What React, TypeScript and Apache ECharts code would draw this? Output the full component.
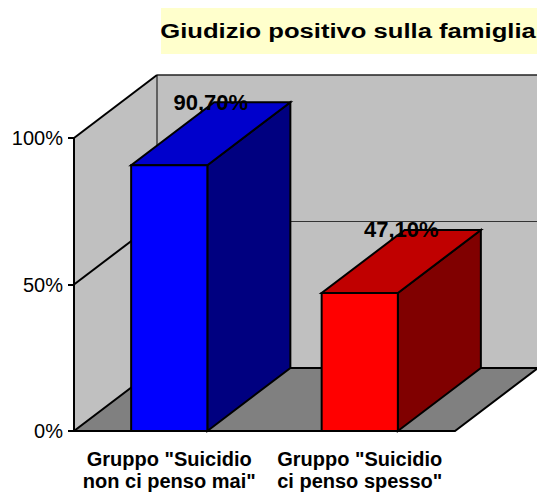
import React, { useEffect, useRef } from 'react';
import * as echarts from 'echarts';

const categories = ['Gruppo "Suicidio\nnon ci penso mai"', 'Gruppo "Suicidio\nci penso spesso"'];
const values = [90.7, 47.1];
const yTicks = [0, 50, 100];
const titleText = 'Giudizio positivo sulla famiglia';
const frontColors = ['#0000FF', '#FF0000'];
const topColors = ['#0000CC', '#C00000'];
const sideColors = ['#000080', '#800000'];

const DX = 83;
const DY = -63;
const FONT = '"Liberation Sans", Arial, Helvetica, sans-serif';

const fmt = (v: number) => v.toFixed(2).replace('.', ',') + '%';

export default function App() {
  const ref = useRef<HTMLDivElement>(null);
  useEffect(() => {
    document.body.style.margin = '0';
    const chart = echarts.init(ref.current!, null, { renderer: 'svg' });
    const wallsRender = (params: any, api: any) => {
      const cs = params.coordSys;
      const x0 = cs.x;
      const x1 = cs.x + cs.width;
      const yB = api.coord([0, yTicks[0]])[1];
      const yT = api.coord([0, yTicks[yTicks.length - 1]])[1];
      const children: any[] = [];
      children.push({
        type: 'polygon',
        shape: { points: [[x0 + DX, yT + DY], [x1 + DX + 2, yT + DY], [x1 + DX + 2, yB + DY], [x0 + DX, yB + DY]] },
        style: { fill: '#C0C0C0' },
      });
      children.push({
        type: 'polygon',
        shape: { points: [[x0, yB], [x0, yT], [x0 + DX, yT + DY], [x0 + DX, yB + DY]] },
        style: { fill: '#C0C0C0' },
      });
      children.push({
        type: 'line',
        shape: { x1: x0 + DX, y1: yT + DY, x2: x0 + DX, y2: yB + DY },
        style: { stroke: '#000', lineWidth: 1 },
      });
      yTicks.forEach((v) => {
        if (v === yTicks[0]) return;
        const y = api.coord([0, v])[1];
        const isTop = v === yTicks[yTicks.length - 1];
        children.push({
          type: 'line',
          shape: { x1: x0 + DX, y1: y + DY, x2: x1 + DX + 2, y2: y + DY },
          style: { stroke: isTop ? '#222' : '#333', lineWidth: isTop ? 1.5 : 1 },
        });
        children.push({
          type: 'line',
          shape: { x1: x0, y1: y, x2: x0 + DX, y2: y + DY },
          style: { stroke: '#000', lineWidth: 2 },
        });
      });
      children.push({
        type: 'polygon',
        shape: { points: [[x0, yB], [x1, yB], [x1 + DX, yB + DY], [x0 + DX, yB + DY]] },
        style: { fill: '#808080', stroke: '#000', lineWidth: 2, lineJoin: 'miter' },
      });
      return { type: 'group', children };
    };

    const barsRender = (params: any, api: any) => {
      const idx = api.value(0);
      const val = api.value(1);
      const top = api.coord([idx, val]);
      const base = api.coord([idx, 0]);
      const bw = api.size([1, 0])[0] * 0.4;
      const l = top[0] - bw / 2;
      const r = top[0] + bw / 2;
      const t = top[1];
      const b = base[1];
      const i = params.dataIndex;
      const edge = { stroke: '#000', lineWidth: 2, lineJoin: 'miter' };
      return {
        type: 'group',
        children: [
          {
            type: 'polygon',
            shape: { points: [[r, b], [r + DX, b + DY], [r + DX, t + DY], [r, t]] },
            style: { fill: sideColors[i], ...edge },
          },
          {
            type: 'polygon',
            shape: { points: [[l, t], [r, t], [r + DX, t + DY], [l + DX, t + DY]] },
            style: { fill: topColors[i], ...edge },
          },
          {
            type: 'rect',
            shape: { x: l, y: t, width: bw, height: b - t },
            style: { fill: frontColors[i], ...edge },
          },
          {
            type: 'text',
            x: top[0] + DX / 2,
            y: t + DY,
            style: {
              text: fmt(val),
              fill: '#000',
              font: `bold 22px ${FONT}`,
              align: 'center',
              verticalAlign: 'middle',
            },
          },
        ],
      };
    };

    chart.setOption({
      animation: false,
      backgroundColor: '#FFFFFF',
      grid: { left: 74, right: 82, top: 138, bottom: 64, containLabel: false },
      graphic: [
        {
          type: 'rect',
          shape: { x: 161, y: 8, width: 376, height: 46 },
          style: { fill: '#FFFFCC' },
          z: 20,
        },
        {
          type: 'text',
          x: 348,
          y: 31,
          scaleX: 1.22,
          style: {
            text: titleText,
            fill: '#000',
            font: `bold 21px ${FONT}`,
            align: 'center',
            verticalAlign: 'middle',
          },
          z: 21,
        },
      ],
      xAxis: {
        type: 'category',
        data: categories,
        axisLine: { show: false },
        axisTick: { show: false },
        splitLine: { show: false },
        axisLabel: {
          color: '#000',
          fontSize: 20,
          fontWeight: 'bold',
          fontFamily: FONT,
          lineHeight: 22,
          margin: 17,
          interval: 0,
        },
      },
      yAxis: {
        type: 'value',
        min: 0,
        max: 100,
        interval: 50,
        z: 10,
        axisLine: { show: true, lineStyle: { color: '#000', width: 2 } },
        axisTick: { show: true, length: 6, lineStyle: { color: '#000', width: 2 } },
        splitLine: { show: false },
        axisLabel: {
          formatter: '{value}%',
          color: '#000',
          fontSize: 20,
          fontFamily: FONT,
          margin: 11,
        },
      },
      series: [
        {
          type: 'custom',
          name: 'walls',
          z: 1,
          silent: true,
          renderItem: wallsRender,
          data: [[0, 0]],
        },
        {
          type: 'custom',
          name: 'Giudizio positivo',
          z: 2,
          renderItem: barsRender,
          data: values.map((v, i) => [i, v]),
        },
      ],
    });
    return () => chart.dispose();
  }, []);
  return <div ref={ref} style={{ width: 537, height: 495 }} />;
}
